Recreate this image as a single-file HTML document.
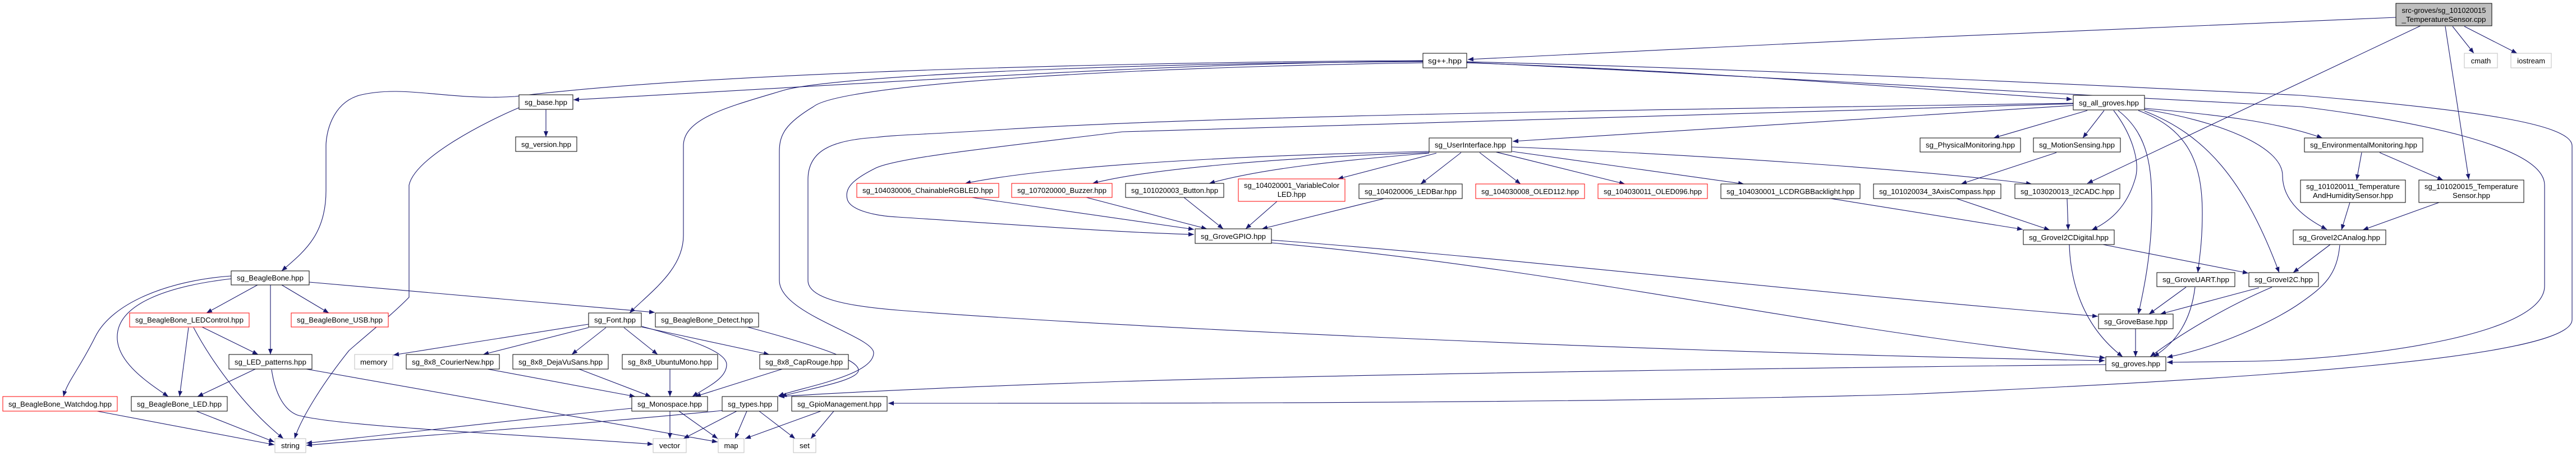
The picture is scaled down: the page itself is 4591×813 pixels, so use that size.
<!DOCTYPE html>
<html><head><meta charset="utf-8">
<style>
html,body{margin:0;padding:0;background:#fff;}
svg{display:block;}
text{font-family:"Liberation Sans",sans-serif;font-size:13px;fill:#000;}
.e{fill:none;stroke:#191970;stroke-width:1.1;marker-end:url(#a);}
.n{fill:#fff;stroke:#000;stroke-width:1;}
.r{fill:#fff;stroke:#ff0000;stroke-width:1;}
.g{fill:#fff;stroke:#bfbfbf;stroke-width:1;}
</style></head><body>
<svg width="4591" height="813" viewBox="0 0 4591 813" xmlns="http://www.w3.org/2000/svg">
<defs><marker id="a" markerWidth="10" markerHeight="8" refX="10" refY="4" orient="auto" markerUnits="userSpaceOnUse"><path d="M0,0 L10,4 L0,8z" fill="#191970"/></marker></defs>
<g>
<path class="e" d="M4270,31 C3900,45 3100,80 2616,106"/>
<path class="e" d="M4371,47 L4409,95"/>
<path class="e" d="M4392,47 L4486,95"/>
<path class="e" d="M4358,47 L4400,320"/>
<path class="e" d="M4314,46 L3720,327"/>
<path class="e" d="M2536,109 C2100,112 1700,140 1022,178"/>
<path class="e" d="M2536,108 C2100,110 1300,125 918,172 C800,180 720,150 640,170 C590,185 581,240 581,260 L581,340 C581,420 540,450 502,483"/>
<path class="e" d="M2536,110 C2000,112 1500,135 1400,160 C1300,190 1218,210 1218,260 L1218,420 C1218,480 1160,520 1122,558"/>
<path class="e" d="M2536,112 C2000,120 1500,150 1450,190 C1400,220 1389,240 1389,270 L1389,500 C1389,560 1560,600 1557,630 C1555,670 1430,690 1387,706"/>
<path class="e" d="M2614,112 C3000,125 3300,150 3693,177"/>
<path class="e" d="M2614,111 C3200,140 3900,180 4100,190 C4300,215 4535,260 4535,330 L4535,510 C4535,600 4200,640 4019,644 L3862,646"/>
<path class="e" d="M2614,110 C3200,125 3900,160 4100,170 C4400,195 4584,220 4584,260 L4584,570 C4584,640 4000,676 3400,703 C2800,720 2000,719 1583,719"/>
<path class="e" d="M3695,188 C3400,205 3000,235 2696,252"/>
<path class="e" d="M3695,185 C3200,195 2600,215 2000,235 C1800,260 1600,280 1560,300 C1520,320 1505,335 1510,355 C1515,375 1560,385 1600,387 C1800,400 2000,415 2128,418"/>
<path class="e" d="M3695,184 C3000,195 2200,205 1800,230 C1650,240 1600,240 1560,245 C1480,250 1440,270 1440,320 L1440,500 C1440,530 1500,545 1600,553 C2000,585 3000,630 3751,643"/>
<path class="e" d="M3720,197 L3553,246"/>
<path class="e" d="M3750,197 L3712,246"/>
<path class="e" d="M3767,197 C3800,240 3815,290 3805,320 C3790,370 3760,395 3728,410"/>
<path class="e" d="M3775,197 C3830,240 3835,300 3835,370 C3835,450 3820,520 3811,560"/>
<path class="e" d="M3811,197 C3900,230 3925,290 3925,380 C3925,430 3920,460 3917,486"/>
<path class="e" d="M3822,198 C3930,240 4000,320 4062,486"/>
<path class="e" d="M3822,195 C3950,215 4068,260 4068,313 C4068,360 4110,390 4147,409"/>
<path class="e" d="M3822,193 C3950,205 4050,215 4139,246"/>
<path class="e" d="M2547,270 C2300,275 1900,290 1720,327"/>
<path class="e" d="M2547,272 C2300,280 2050,300 1947,327"/>
<path class="e" d="M2547,273 C2400,285 2250,300 2155,327"/>
<path class="e" d="M2560,273 L2384,319"/>
<path class="e" d="M2604,272 L2532,328"/>
<path class="e" d="M2637,272 L2710,328"/>
<path class="e" d="M2666,271 L2896,328"/>
<path class="e" d="M2695,270 L3108,328"/>
<path class="e" d="M2694,262 C3000,275 3400,300 3621,328"/>
<path class="e" d="M1732,352 L2128,409"/>
<path class="e" d="M1936,352 L2151,408"/>
<path class="e" d="M2110,352 L2180,408"/>
<path class="e" d="M2276,359 L2220,408"/>
<path class="e" d="M2467,354 L2249,408"/>
<path class="e" d="M2266,428 C2700,460 3200,520 3739,564"/>
<path class="e" d="M2266,433 C2800,480 3300,600 3752,638"/>
<path class="e" d="M3263,354 L3605,409"/>
<path class="e" d="M3487,354 L3653,410"/>
<path class="e" d="M3684,354 L3686,410"/>
<path class="e" d="M3665,272 L3495,328"/>
<path class="e" d="M4209,272 L4200,321"/>
<path class="e" d="M4241,272 L4354,321"/>
<path class="e" d="M4188,361 L4173,410"/>
<path class="e" d="M4347,361 L4211,410"/>
<path class="e" d="M4153,436 L4087,486"/>
<path class="e" d="M4170,437 C4165,490 4143,510 4100,540 C4050,575 3950,620 3862,637"/>
<path class="e" d="M3748,436 L4007,487"/>
<path class="e" d="M3688,436 C3690,500 3710,580 3783,636"/>
<path class="e" d="M3896,512 L3830,560"/>
<path class="e" d="M3912,512 C3905,570 3880,610 3838,636"/>
<path class="e" d="M4026,513 L3850,560"/>
<path class="e" d="M4049,512 C3960,550 3880,600 3832,636"/>
<path class="e" d="M3806,586 L3806,636"/>
<path class="e" d="M3753,650 C3300,655 2500,665 2000,680 C1700,690 1500,700 1388,707"/>
<path class="e" d="M973,195 L973,244"/>
<path class="e" d="M925,192 C870,215 740,280 729,330 L729,530 C700,560 650,600 622,625 C570,690 535,750 525,782"/>
<path class="e" d="M459,508 L368,558"/>
<path class="e" d="M502,508 L586,558"/>
<path class="e" d="M482,508 L482,632"/>
<path class="e" d="M412,497 C300,510 220,540 210,590 C200,640 260,680 300,707"/>
<path class="e" d="M412,492 C300,500 200,540 170,600 C140,660 120,680 113,707"/>
<path class="e" d="M551,503 L1167,557"/>
<path class="e" d="M360,583 L460,632"/>
<path class="e" d="M336,584 L320,707"/>
<path class="e" d="M345,584 C380,650 440,730 505,782"/>
<path class="e" d="M455,658 L352,707"/>
<path class="e" d="M546,658 L1279,788"/>
<path class="e" d="M484,659 C490,700 505,730 530,740 C600,760 900,773 1164,792"/>
<path class="e" d="M173,733 L489,793"/>
<path class="e" d="M350,733 L489,788"/>
<path class="e" d="M1049,578 L701,633"/>
<path class="e" d="M1049,584 L861,632"/>
<path class="e" d="M1080,584 L1019,632"/>
<path class="e" d="M1112,584 L1172,632"/>
<path class="e" d="M1144,583 L1371,632"/>
<path class="e" d="M1144,582 C1230,605 1295,627 1295,650 C1295,675 1260,690 1234,707"/>
<path class="e" d="M869,658 L1132,707"/>
<path class="e" d="M1032,658 L1160,707"/>
<path class="e" d="M1194,658 L1194,707"/>
<path class="e" d="M1394,658 L1239,707"/>
<path class="e" d="M1332,583 C1450,615 1530,640 1530,660 C1530,680 1430,695 1392,707"/>
<path class="e" d="M1194,733 L1194,782"/>
<path class="e" d="M1210,733 L1279,782"/>
<path class="e" d="M1126,728 C900,750 700,775 546,790"/>
<path class="e" d="M1313,733 L1218,782"/>
<path class="e" d="M1331,733 L1310,782"/>
<path class="e" d="M1353,733 L1417,782"/>
<path class="e" d="M1287,732 C1000,760 700,780 546,794"/>
<path class="e" d="M1463,733 L1328,782"/>
<path class="e" d="M1486,733 L1445,782"/>
</g>
<g>
<rect x="4270" y="6" width="171" height="40" fill="#bfbfbf" stroke="#000"/>
<text x="4355.5" y="23" text-anchor="middle" textLength="150" lengthAdjust="spacingAndGlyphs">src-groves/sg_101020015</text>
<text x="4355.5" y="39" text-anchor="middle" textLength="150" lengthAdjust="spacingAndGlyphs">_TemperatureSensor.cpp</text>

<rect class="n" x="2536" y="95" width="78" height="26"/><text x="2575" y="113" text-anchor="middle" textLength="60" lengthAdjust="spacingAndGlyphs">sg++.hpp</text>
<rect class="g" x="4392" y="95" width="59" height="26"/><text x="4421.5" y="113" text-anchor="middle">cmath</text>
<rect class="g" x="4475" y="95" width="72" height="26"/><text x="4511" y="113" text-anchor="middle">iostream</text>
<rect class="n" x="925" y="169" width="96" height="26"/><text x="973" y="187" text-anchor="middle" textLength="76" lengthAdjust="spacingAndGlyphs">sg_base.hpp</text>
<rect class="n" x="919" y="244" width="109" height="26"/><text x="973.5" y="262" text-anchor="middle" textLength="89" lengthAdjust="spacingAndGlyphs">sg_version.hpp</text>
<rect class="n" x="3695" y="170" width="127" height="26"/><text x="3758.5" y="188" text-anchor="middle" textLength="107" lengthAdjust="spacingAndGlyphs">sg_all_groves.hpp</text>
<rect class="n" x="2547" y="246" width="147" height="25"/><text x="2620.5" y="263" text-anchor="middle" textLength="127" lengthAdjust="spacingAndGlyphs">sg_UserInterface.hpp</text>
<rect class="n" x="3422" y="246" width="179" height="25"/><text x="3511.5" y="263" text-anchor="middle" textLength="159" lengthAdjust="spacingAndGlyphs">sg_PhysicalMonitoring.hpp</text>
<rect class="n" x="3624" y="246" width="155" height="25"/><text x="3701.5" y="263" text-anchor="middle" textLength="135" lengthAdjust="spacingAndGlyphs">sg_MotionSensing.hpp</text>
<rect class="n" x="4107" y="246" width="211" height="25"/><text x="4212.5" y="263" text-anchor="middle" textLength="191" lengthAdjust="spacingAndGlyphs">sg_EnvironmentalMonitoring.hpp</text>

<rect class="r" x="1527" y="327" width="253" height="25"/><text x="1653.5" y="344" text-anchor="middle" textLength="233" lengthAdjust="spacingAndGlyphs">sg_104030006_ChainableRGBLED.hpp</text>
<rect class="r" x="1803" y="327" width="179" height="25"/><text x="1892.5" y="344" text-anchor="middle" textLength="159" lengthAdjust="spacingAndGlyphs">sg_107020000_Buzzer.hpp</text>
<rect class="n" x="2006" y="327" width="175" height="25"/><text x="2093.5" y="344" text-anchor="middle" textLength="155" lengthAdjust="spacingAndGlyphs">sg_101020003_Button.hpp</text>
<rect class="r" x="2207" y="319" width="190" height="40"/>
<text x="2302" y="335" text-anchor="middle" textLength="170" lengthAdjust="spacingAndGlyphs">sg_104020001_VariableColor</text>
<text x="2302" y="351" text-anchor="middle">LED.hpp</text>
<rect class="n" x="2422" y="328" width="184" height="26"/><text x="2514" y="346" text-anchor="middle" textLength="164" lengthAdjust="spacingAndGlyphs">sg_104020006_LEDBar.hpp</text>
<rect class="r" x="2630" y="328" width="194" height="26"/><text x="2727" y="346" text-anchor="middle" textLength="174" lengthAdjust="spacingAndGlyphs">sg_104030008_OLED112.hpp</text>
<rect class="r" x="2848" y="328" width="195" height="26"/><text x="2945.5" y="346" text-anchor="middle" textLength="175" lengthAdjust="spacingAndGlyphs">sg_104030011_OLED096.hpp</text>
<rect class="n" x="3067" y="328" width="248" height="26"/><text x="3191" y="346" text-anchor="middle" textLength="228" lengthAdjust="spacingAndGlyphs">sg_104030001_LCDRGBBacklight.hpp</text>
<rect class="n" x="3339" y="328" width="227" height="26"/><text x="3452.5" y="346" text-anchor="middle" textLength="207" lengthAdjust="spacingAndGlyphs">sg_101020034_3AxisCompass.hpp</text>
<rect class="n" x="3591" y="328" width="187" height="26"/><text x="3684.5" y="346" text-anchor="middle" textLength="167" lengthAdjust="spacingAndGlyphs">sg_103020013_I2CADC.hpp</text>
<rect class="n" x="4100" y="321" width="187" height="40"/>
<text x="4193.5" y="337" text-anchor="middle" textLength="167" lengthAdjust="spacingAndGlyphs">sg_101020011_Temperature</text>
<text x="4193.5" y="353" text-anchor="middle" textLength="143" lengthAdjust="spacingAndGlyphs">AndHumiditySensor.hpp</text>
<rect class="n" x="4311" y="321" width="187" height="40"/>
<text x="4404.5" y="337" text-anchor="middle" textLength="167" lengthAdjust="spacingAndGlyphs">sg_101020015_Temperature</text>
<text x="4404.5" y="353" text-anchor="middle" textLength="67" lengthAdjust="spacingAndGlyphs">Sensor.hpp</text>

<rect class="n" x="2130" y="408" width="136" height="26"/><text x="2198" y="426" text-anchor="middle" textLength="116" lengthAdjust="spacingAndGlyphs">sg_GroveGPIO.hpp</text>
<rect class="n" x="3606" y="410" width="162" height="26"/><text x="3687" y="428" text-anchor="middle" textLength="142" lengthAdjust="spacingAndGlyphs">sg_GroveI2CDigital.hpp</text>
<rect class="n" x="4087" y="410" width="165" height="26"/><text x="4169.5" y="428" text-anchor="middle" textLength="145" lengthAdjust="spacingAndGlyphs">sg_GroveI2CAnalog.hpp</text>

<rect class="n" x="412" y="483" width="139" height="25"/><text x="481.5" y="500" text-anchor="middle" textLength="119" lengthAdjust="spacingAndGlyphs">sg_BeagleBone.hpp</text>
<rect class="n" x="3844" y="486" width="139" height="25"/><text x="3913.5" y="503" text-anchor="middle" textLength="119" lengthAdjust="spacingAndGlyphs">sg_GroveUART.hpp</text>
<rect class="n" x="4008" y="486" width="124" height="25"/><text x="4070" y="503" text-anchor="middle" textLength="104" lengthAdjust="spacingAndGlyphs">sg_GroveI2C.hpp</text>

<rect class="r" x="231" y="558" width="213" height="25"/><text x="337.5" y="575" text-anchor="middle" textLength="193" lengthAdjust="spacingAndGlyphs">sg_BeagleBone_LEDControl.hpp</text>
<rect class="r" x="519" y="558" width="173" height="25"/><text x="605.5" y="575" text-anchor="middle" textLength="153" lengthAdjust="spacingAndGlyphs">sg_BeagleBone_USB.hpp</text>
<rect class="n" x="1049" y="558" width="94" height="25"/><text x="1096" y="575" text-anchor="middle" textLength="74" lengthAdjust="spacingAndGlyphs">sg_Font.hpp</text>
<rect class="n" x="1168" y="558" width="184" height="25"/><text x="1260" y="575" text-anchor="middle" textLength="164" lengthAdjust="spacingAndGlyphs">sg_BeagleBone_Detect.hpp</text>
<rect class="n" x="3740" y="560" width="133" height="26"/><text x="3806.5" y="578" text-anchor="middle" textLength="113" lengthAdjust="spacingAndGlyphs">sg_GroveBase.hpp</text>

<rect class="n" x="408" y="632" width="148" height="26"/><text x="482" y="650" text-anchor="middle" textLength="128" lengthAdjust="spacingAndGlyphs">sg_LED_patterns.hpp</text>
<rect class="g" x="632" y="632" width="68" height="26"/><text x="666" y="650" text-anchor="middle" textLength="48" lengthAdjust="spacingAndGlyphs">memory</text>
<rect class="n" x="724" y="632" width="166" height="26"/><text x="807" y="650" text-anchor="middle" textLength="146" lengthAdjust="spacingAndGlyphs">sg_8x8_CourierNew.hpp</text>
<rect class="n" x="914" y="632" width="170" height="26"/><text x="999" y="650" text-anchor="middle" textLength="150" lengthAdjust="spacingAndGlyphs">sg_8x8_DejaVuSans.hpp</text>
<rect class="n" x="1109" y="632" width="170" height="26"/><text x="1194" y="650" text-anchor="middle" textLength="150" lengthAdjust="spacingAndGlyphs">sg_8x8_UbuntuMono.hpp</text>
<rect class="n" x="1354" y="632" width="158" height="26"/><text x="1433" y="650" text-anchor="middle" textLength="138" lengthAdjust="spacingAndGlyphs">sg_8x8_CapRouge.hpp</text>
<rect class="n" x="3753" y="636" width="107" height="25"/><text x="3806.5" y="653" text-anchor="middle" textLength="87" lengthAdjust="spacingAndGlyphs">sg_groves.hpp</text>

<rect class="r" x="5" y="707" width="204" height="26"/><text x="107" y="725" text-anchor="middle" textLength="184" lengthAdjust="spacingAndGlyphs">sg_BeagleBone_Watchdog.hpp</text>
<rect class="n" x="234" y="707" width="171" height="26"/><text x="319.5" y="725" text-anchor="middle" textLength="151" lengthAdjust="spacingAndGlyphs">sg_BeagleBone_LED.hpp</text>
<rect class="n" x="1126" y="707" width="135" height="26"/><text x="1193.5" y="725" text-anchor="middle" textLength="115" lengthAdjust="spacingAndGlyphs">sg_Monospace.hpp</text>
<rect class="n" x="1287" y="707" width="99" height="26"/><text x="1336.5" y="725" text-anchor="middle" textLength="79" lengthAdjust="spacingAndGlyphs">sg_types.hpp</text>
<rect class="n" x="1411" y="707" width="170" height="26"/><text x="1496" y="725" text-anchor="middle" textLength="150" lengthAdjust="spacingAndGlyphs">sg_GpioManagement.hpp</text>

<rect class="g" x="490" y="782" width="55" height="25"/><text x="517.5" y="799" text-anchor="middle" textLength="33" lengthAdjust="spacingAndGlyphs">string</text>
<rect class="g" x="1164" y="782" width="59" height="25"/><text x="1193.5" y="799" text-anchor="middle" textLength="37" lengthAdjust="spacingAndGlyphs">vector</text>
<rect class="g" x="1280" y="782" width="46" height="25"/><text x="1303" y="799" text-anchor="middle" textLength="25" lengthAdjust="spacingAndGlyphs">map</text>
<rect class="g" x="1414" y="782" width="40" height="25"/><text x="1434" y="799" text-anchor="middle" textLength="18" lengthAdjust="spacingAndGlyphs">set</text>
</g>
</svg>
</body></html>
